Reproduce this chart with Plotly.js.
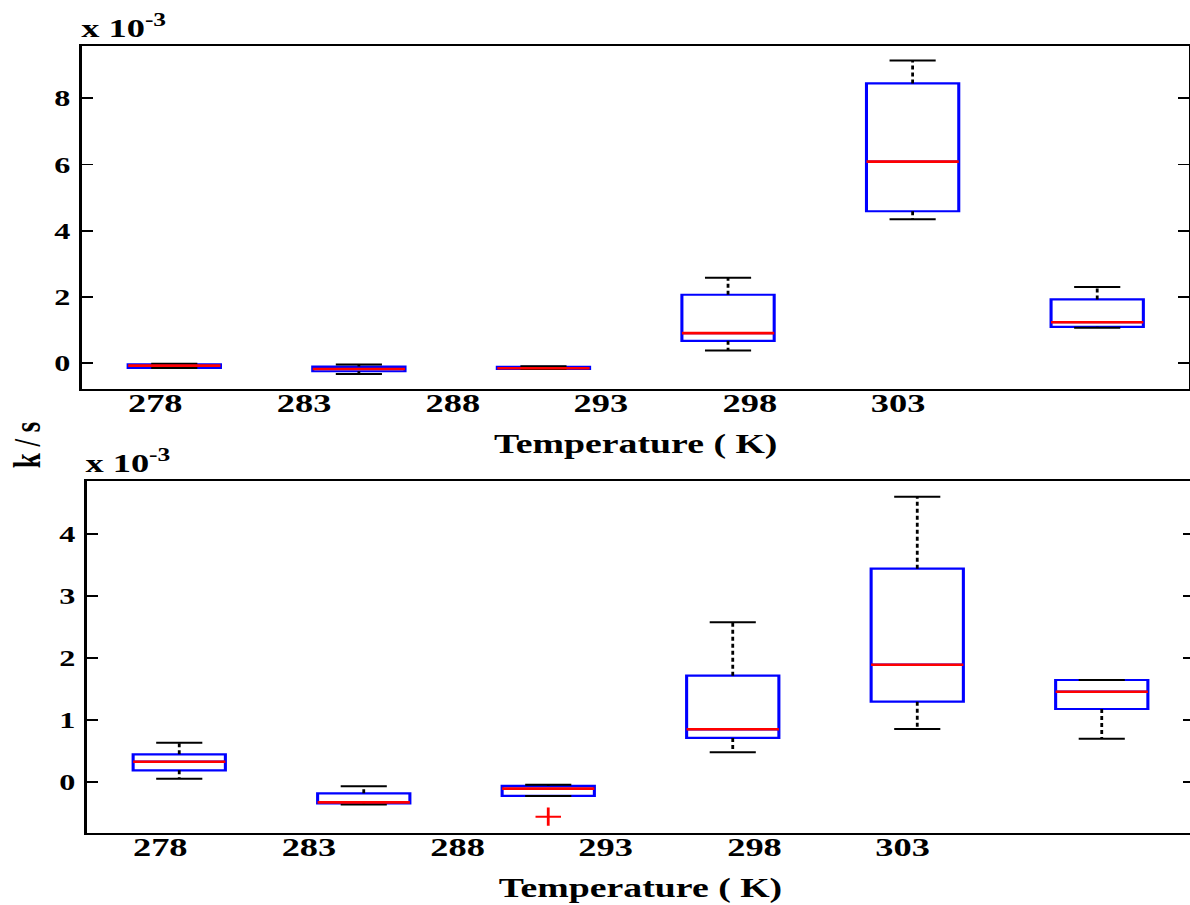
<!DOCTYPE html>
<html>
<head>
<meta charset="utf-8">
<script src="https://cdn.plot.ly/plotly-3.0.1.min.js"></script>
<style>
  html, body { margin: 0; padding: 0; overflow: hidden; background: #fff; }
  #plot { width: 856px; height: 905px; transform: scaleX(1.4); transform-origin: 0 0; }
</style>
</head>
<body>
<div id="plot"></div>
<script>
// ---------- data (values in units of 10^-3 k/s) ----------
const groups = [1, 2, 3, 4, 5, 6];
const tickLabels = ['278', '283', '288', '293', '298', '303'];

// upper panel
const topQ1     = [-0.14, -0.24, -0.17, 0.68, 4.59, 1.10];
const topMedian = [-0.07, -0.17, -0.15, 0.91, 6.09, 1.24];
const topQ3     = [-0.03, -0.10, -0.11, 2.07, 8.45, 1.93];
const topLow    = [-0.14, -0.32, -0.17, 0.39, 4.35, 1.07];
const topHigh   = [-0.01, -0.04, -0.09, 2.58, 9.14, 2.30];
const topOutGroup = [];
const topOutValue = [];

// lower panel
const botQ1     = [0.184, -0.35, -0.23, 0.707, 1.293, 1.175];
const botMedian = [0.323, -0.334, -0.113, 0.847, 1.892, 1.455];
const botQ3     = [0.443, -0.188, -0.069, 1.714, 3.444, 1.644];
const botLow    = [0.049, -0.37, -0.23, 0.475, 0.852, 0.695];
const botHigh   = [0.63, -0.075, -0.048, 2.577, 4.608, 1.644];
const botOutGroup = [3];
const botOutValue = [-0.566];

// ---------- styling / geometry ----------
const SX = 1.4, W = 856, H = 905;
const BOXW = 0.5, CAPW = 0.25;
const BLUE = '#0000ff', RED = '#ff0000', BLACK = '#000000';
const tickPos = [0.897, 1.703, 2.509, 3.311, 4.118, 4.921];
const fx = p => p / SX / W;        // image px (x) -> paper
const fy = p => 1 - p / H;         // image px (y) -> paper
const FONT = '"Liberation Serif", "Times New Roman", Times, serif';

function panel(q1, med, q3, lo, hi, outG, outV, xa, ya) {
  const tr = [];
  const wx = [], wy = [];
  groups.forEach((g, i) => {
    wx.push(g, g, null, g, g, null);
    wy.push(q3[i], hi[i], null, q1[i], lo[i], null);
  });
  tr.push({type: 'scatter', mode: 'lines', x: wx, y: wy, xaxis: xa, yaxis: ya,
           line: {color: BLACK, width: 2, dash: '4px,3px'}, hoverinfo: 'skip'});
  const cx = [], cy = [];
  groups.forEach((g, i) => {
    cx.push(g - CAPW / 2, g + CAPW / 2, null, g - CAPW / 2, g + CAPW / 2, null);
    cy.push(hi[i], hi[i], null, lo[i], lo[i], null);
  });
  tr.push({type: 'scatter', mode: 'lines', x: cx, y: cy, xaxis: xa, yaxis: ya,
           line: {color: BLACK, width: 2}, hoverinfo: 'skip'});
  tr.push({type: 'box', x: groups, q1: q1, median: med, q3: q3,
           lowerfence: q1, upperfence: q3, width: BOXW, whiskerwidth: 0,
           boxpoints: false, xaxis: xa, yaxis: ya,
           line: {color: BLUE, width: 2.2}, fillcolor: 'rgba(0,0,0,0)'});
  const mx = [], my = [];
  groups.forEach((g, i) => {
    mx.push(g - BOXW / 2, g + BOXW / 2, null);
    my.push(med[i], med[i], null);
  });
  tr.push({type: 'scatter', mode: 'lines', x: mx, y: my, xaxis: xa, yaxis: ya,
           line: {color: RED, width: 2.6}, hoverinfo: 'skip'});
  if (outG.length) {
    tr.push({type: 'scatter', mode: 'markers', x: outG, y: outV, xaxis: xa, yaxis: ya,
             marker: {symbol: 'cross-thin', size: 13, color: RED, line: {color: RED, width: 2}}});
  }
  return tr;
}

const data = [].concat(
  panel(topQ1, topMedian, topQ3, topLow, topHigh, topOutGroup, topOutValue, 'x', 'y'),
  panel(botQ1, botMedian, botQ3, botLow, botHigh, botOutGroup, botOutValue, 'x2', 'y2')
);

function xAxis(domain, anchor) {
  return {
    domain: domain, anchor: anchor, range: [0.5, 6.5],
    tickmode: 'array', tickvals: tickPos, ticktext: tickLabels,
    ticks: '', showgrid: false, zeroline: false,
    showline: true, mirror: true, linecolor: BLACK, linewidth: 1.8,
    tickfont: {family: FONT, size: 26, color: BLACK, weight: 'bold'},
    ticklabelstandoff: -10,
    title: {text: 'Temperature ( K)', standoff: 17,
            font: {family: FONT, size: 27, color: BLACK, weight: 'bold'}}
  };
}
function yAxis(domain, anchor, range, ticks) {
  return {
    domain: domain, anchor: anchor, range: range,
    tickmode: 'array', tickvals: ticks,
    ticks: 'inside', ticklen: 8, tickwidth: 1.8, tickcolor: BLACK,
    showgrid: false, zeroline: false,
    showline: true, mirror: 'ticks', linecolor: BLACK, linewidth: 1.8,
    tickfont: {family: FONT, size: 23, color: BLACK, weight: 'bold'},
    ticklabelstandoff: 2
  };
}

const layout = {
  width: W, height: H,
  margin: {l: 0, r: 0, t: 0, b: 0},
  paper_bgcolor: '#fff', plot_bgcolor: '#fff',
  showlegend: false,
  font: {family: FONT, color: BLACK},
  xaxis: xAxis([fx(82), fx(1189.5)], 'y'),
  yaxis: yAxis([fy(389.3), fy(46)], 'x', [-0.785, 9.58], [0, 2, 4, 6, 8]),
  xaxis2: xAxis([fx(87), fx(1194)], 'y2'),
  yaxis2: yAxis([fy(832.7), fy(480.7)], 'x2', [-0.825, 4.867], [0, 1, 2, 3, 4]),
  annotations: [
    {text: 'x 10<sup>-3</sup>', xref: 'paper', yref: 'paper', x: fx(82), y: fy(46),
     xanchor: 'left', yanchor: 'bottom', showarrow: false, yshift: 1, xshift: -3,
     font: {family: FONT, size: 26, color: BLACK, weight: 'bold'}},
    {text: 'x 10<sup>-3</sup>', xref: 'paper', yref: 'paper', x: fx(87), y: fy(480.7),
     xanchor: 'left', yanchor: 'bottom', showarrow: false, yshift: 1, xshift: -3,
     font: {family: FONT, size: 26, color: BLACK, weight: 'bold'}},
    {text: 'k / s', xref: 'paper', yref: 'paper', x: fx(27), y: fy(445),
     xanchor: 'center', yanchor: 'middle', showarrow: false, textangle: -90,
     font: {family: FONT, size: 27, color: BLACK, weight: 'bold'}}
  ]
};

Plotly.newPlot('plot', data, layout, {displayModeBar: false, staticPlot: true});
</script>
</body>
</html>
